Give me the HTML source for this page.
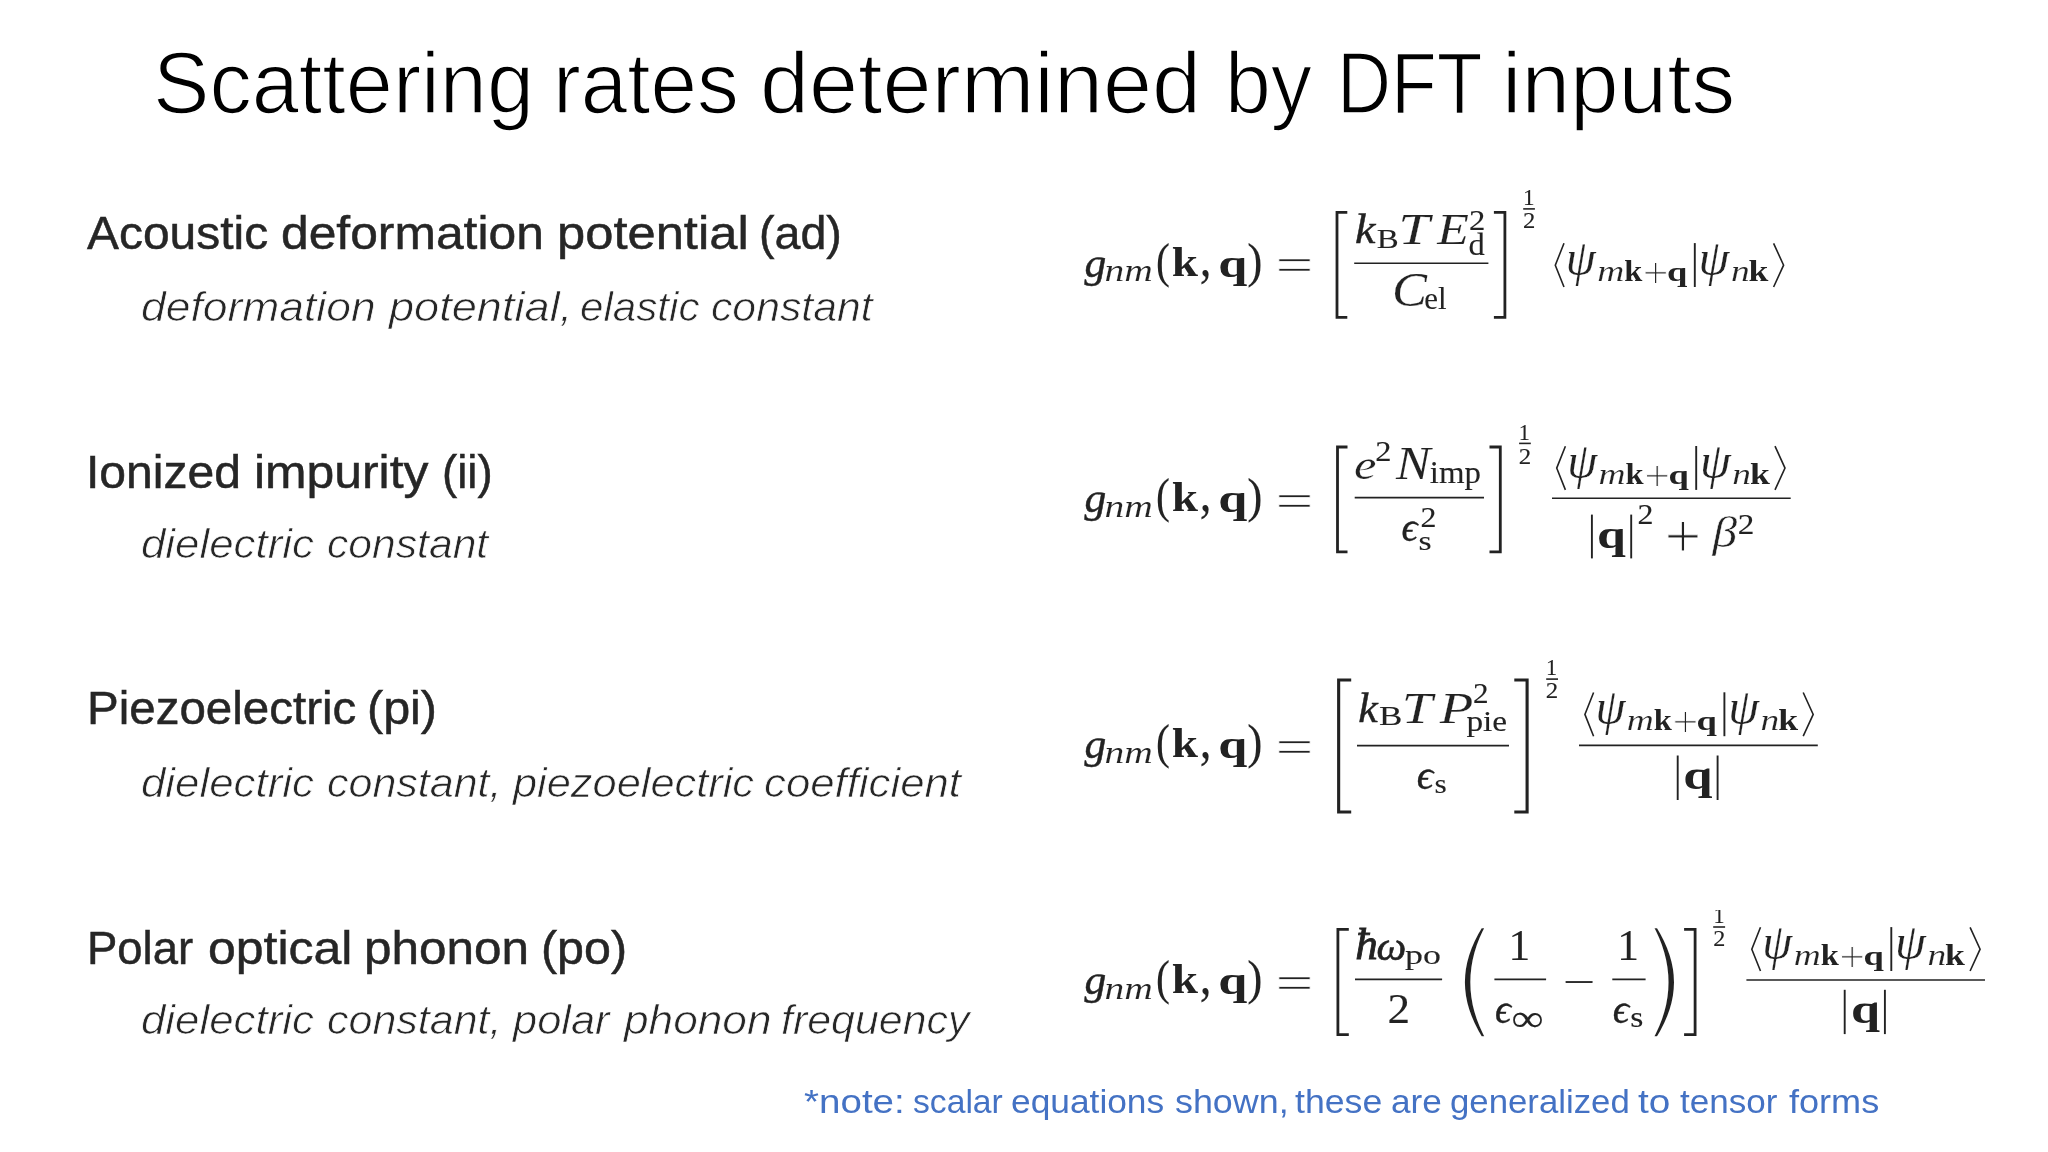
<!DOCTYPE html>
<html lang="en"><head><meta charset="utf-8"><title>Scattering rates determined by DFT inputs</title>
<style>
html,body{margin:0;padding:0;background:#fff}
body{width:2048px;height:1152px;position:relative;overflow:hidden}
.ln{will-change:transform;position:absolute;left:0;width:2048px;height:0;line-height:1;white-space:nowrap;font-kerning:none;font-variant-ligatures:none;font-family:"Liberation Sans",sans-serif}
.ln span{position:absolute;top:0;transform-origin:0 0;white-space:nowrap}
.ti{color:#000;-webkit-text-stroke:1.6px #fff}
.hd{color:#262626;-webkit-text-stroke:0.5px #262626}
.it{color:#262626;font-style:italic;-webkit-text-stroke:0.7px #fff}
.nt{color:#4472c4}
svg{position:absolute;left:0;top:0;will-change:transform}
svg text{fill:#222;font-kerning:none;font-variant-ligatures:none}
svg line,svg polyline{stroke:#222}
.r{font-family:"Liberation Serif",serif;stroke:#222;stroke-width:0.12px}
.i{font-family:"Liberation Serif",serif;font-style:italic;stroke:#222;stroke-width:0.2px}
.b{font-family:"Liberation Serif",serif;font-weight:bold}
.d{font-family:"DejaVu Serif",serif}
.ds{font-family:"DejaVu Sans",sans-serif}
</style></head><body>
<div class="ln ti" style="top:39.30px;font-size:87px"><span style="left:152.96px;transform:scaleX(0.9726)">Scattering</span> <span style="left:552.95px;transform:scaleX(0.9605)">rates</span> <span style="left:760.40px;transform:scaleX(1.0132)">determined</span> <span style="left:1225.19px;transform:scaleX(0.9476)">by</span> <span style="left:1336.66px;transform:scaleX(0.8601)">DFT</span> <span style="left:1502.35px;transform:scaleX(1.0045)">inputs</span></div>
<div class="ln hd" style="top:208.65px;font-size:47px"><span style="left:86.61px;transform:scaleX(1.0199)">Acoustic</span> <span style="left:281.41px;transform:scaleX(1.0589)">deformation</span> <span style="left:556.73px;transform:scaleX(1.0786)">potential</span> <span style="left:758.61px;transform:scaleX(0.9903)">(ad)</span></div>
<div class="ln it" style="top:287.10px;font-size:40px"><span style="left:141.40px;transform:scaleX(1.1107)">deformation</span> <span style="left:388.52px;transform:scaleX(1.1286)">potential,</span> <span style="left:579.98px;transform:scaleX(1.0539)">elastic</span> <span style="left:711.00px;transform:scaleX(1.0682)">constant</span></div>
<div class="ln hd" style="top:448.00px;font-size:47px"><span style="left:85.67px;transform:scaleX(1.0223)">Ionized</span> <span style="left:254.17px;transform:scaleX(1.0602)">impurity</span> <span style="left:442.17px;transform:scaleX(0.9707)">(ii)</span></div>
<div class="ln it" style="top:523.80px;font-size:40px"><span style="left:141.42px;transform:scaleX(1.0953)">dielectric</span> <span style="left:327.00px;transform:scaleX(1.0662)">constant</span></div>
<div class="ln hd" style="top:684.20px;font-size:47px"><span style="left:86.95px;transform:scaleX(1.0107)">Piezoelectric</span> <span style="left:366.99px;transform:scaleX(1.0313)">(pi)</span></div>
<div class="ln it" style="top:762.70px;font-size:40px"><span style="left:141.42px;transform:scaleX(1.0953)">dielectric</span> <span style="left:326.99px;transform:scaleX(1.0750)">constant,</span> <span style="left:513.48px;transform:scaleX(1.0840)">piezoelectric</span> <span style="left:764.47px;transform:scaleX(1.0939)">coefficient</span></div>
<div class="ln hd" style="top:923.65px;font-size:47px"><span style="left:87.22px;transform:scaleX(0.9664)">Polar</span> <span style="left:207.90px;transform:scaleX(1.0632)">optical</span> <span style="left:364.32px;transform:scaleX(1.0514)">phonon</span> <span style="left:540.50px;transform:scaleX(1.0289)">(po)</span></div>
<div class="ln it" style="top:999.60px;font-size:40px"><span style="left:141.42px;transform:scaleX(1.0953)">dielectric</span> <span style="left:326.99px;transform:scaleX(1.0750)">constant,</span> <span style="left:513.48px;transform:scaleX(1.0856)">polar</span> <span style="left:623.50px;transform:scaleX(1.1051)">phonon</span> <span style="left:780.95px;transform:scaleX(1.0724)">frequency</span></div>
<div class="ln nt" style="top:1083.80px;font-size:34px"><span style="left:804.38px;transform:scaleX(1.1338)">*note:</span> <span style="left:912.66px;transform:scaleX(0.9901)">scalar</span> <span style="left:1011.40px;transform:scaleX(1.0388)">equations</span> <span style="left:1174.60px;transform:scaleX(1.0547)">shown,</span> <span style="left:1295.36px;transform:scaleX(1.0487)">these</span> <span style="left:1391.31px;transform:scaleX(1.0350)">are</span> <span style="left:1450.14px;transform:scaleX(1.0228)">generalized</span> <span style="left:1638.31px;transform:scaleX(1.1396)">to</span> <span style="left:1679.87px;transform:scaleX(1.0309)">tensor</span> <span style="left:1789.29px;transform:scaleX(1.0614)">forms</span></div>
<svg width="2048" height="1152" viewBox="0 0 2048 1152">
<defs><clipPath id="c4"><rect x="1700" y="910" width="40" height="30"/></clipPath></defs>
<text class="i" font-size="42.50" transform="translate(1084.40 276.63) scale(1.0234 1)" style="stroke:#222;stroke-width:0.45px">g</text>
<text class="i" font-size="30.82" transform="translate(1104.44 281.36) scale(1.2815 1)" style="stroke:#fff;stroke-width:0.12px">nm</text>
<text class="r" font-size="48.64" transform="translate(1156.07 276.65) scale(0.8566 1)">(</text>
<text class="b" font-size="42.23" transform="translate(1171.82 275.70) scale(1.1175 1)">k</text>
<text class="r" font-size="54.51" transform="translate(1199.71 276.12) scale(0.8623 1)">,</text>
<text class="b" font-size="41.08" transform="translate(1218.26 276.76) scale(1.2706 1)">q</text>
<text class="r" font-size="48.64" transform="translate(1247.23 276.65) scale(0.9366 1)">)</text>
<text class="r" font-size="48.80" transform="translate(1275.41 281.30) scale(1.3775 1)" style="stroke:#fff;stroke-width:0.6px">=</text>
<polyline points="1347.30,212.40 1337.00,212.40 1337.00,317.30 1347.30,317.30" stroke-width="2.8" fill="none" stroke-linejoin="miter"/>
<line x1="1354.20" y1="263.20" x2="1488.40" y2="263.20" stroke-width="1.65"/>
<text class="i" font-size="43.17" transform="translate(1354.90 243.38) scale(1.0648 1)" style="stroke:#222;stroke-width:0.45px">k</text>
<text class="r" font-size="28.28" transform="translate(1376.65 248.32) scale(1.1640 1)">B</text>
<text class="i" font-size="45.21" transform="translate(1398.21 243.70) scale(1.2537 1)" style="stroke:#fff;stroke-width:0.2px">T</text>
<text class="i" font-size="45.21" transform="translate(1437.13 243.70) scale(1.1476 1)" style="stroke:#fff;stroke-width:0.2px">E</text>
<text class="r" font-size="29.45" transform="translate(1468.96 229.80) scale(1.1096 1)">2</text>
<text class="r" font-size="31.98" transform="translate(1468.62 254.89) scale(1.0178 1)">d</text>
<text class="i" font-size="49.45" transform="translate(1392.00 306.34) scale(1.0610 1)" style="stroke:#fff;stroke-width:0.2px">C</text>
<text class="r" font-size="30.98" transform="translate(1424.29 308.90) scale(0.9986 1)">el</text>
<polyline points="1493.90,212.40 1504.90,212.40 1504.90,317.30 1493.90,317.30" stroke-width="2.8" fill="none" stroke-linejoin="miter"/>
<text class="r" font-size="23.02" transform="translate(1522.88 205.40) scale(0.9993 1)">1</text>
<line x1="1523.20" y1="208.90" x2="1534.90" y2="208.90" stroke-width="1.6"/>
<text class="r" font-size="22.88" transform="translate(1523.01 227.75) scale(1.0793 1)">2</text>
<polyline points="1564.00,243.30 1555.30,265.20 1564.00,287.00" stroke-width="1.6" fill="none" stroke-linejoin="miter"/>
<text class="i" font-size="49.73" transform="translate(1565.85 275.11) scale(0.9697 1)" style="stroke:#fff;stroke-width:0.2px">ψ</text>
<text class="i" font-size="28.54" transform="translate(1597.19 280.88) scale(1.3120 1)" style="stroke:#fff;stroke-width:0.15px">m</text>
<text class="b" font-size="30.27" transform="translate(1624.19 280.70) scale(1.0727 1)">k</text>
<text class="r" font-size="45.08" transform="translate(1642.82 288.07) scale(1.0154 1)" style="stroke:#fff;stroke-width:1.0px">+</text>
<text class="b" font-size="27.53" transform="translate(1667.00 280.74) scale(1.3285 1)">q</text>
<line x1="1694.80" y1="243.10" x2="1694.80" y2="287.00" stroke-width="1.9"/>
<text class="i" font-size="49.73" transform="translate(1698.56 275.11) scale(0.9977 1)" style="stroke:#fff;stroke-width:0.2px">ψ</text>
<text class="i" font-size="28.54" transform="translate(1730.91 280.88) scale(1.3107 1)" style="stroke:#fff;stroke-width:0.15px">n</text>
<text class="b" font-size="30.27" transform="translate(1748.61 280.70) scale(1.1787 1)">k</text>
<polyline points="1773.60,243.30 1783.60,265.20 1773.60,287.00" stroke-width="1.6" fill="none" stroke-linejoin="miter"/>
<text class="i" font-size="42.50" transform="translate(1084.40 511.93) scale(1.0234 1)" style="stroke:#222;stroke-width:0.45px">g</text>
<text class="i" font-size="30.82" transform="translate(1104.44 516.66) scale(1.2815 1)" style="stroke:#fff;stroke-width:0.12px">nm</text>
<text class="r" font-size="48.64" transform="translate(1156.07 511.95) scale(0.8566 1)">(</text>
<text class="b" font-size="42.23" transform="translate(1171.82 511.00) scale(1.1175 1)">k</text>
<text class="r" font-size="54.51" transform="translate(1199.71 511.42) scale(0.8623 1)">,</text>
<text class="b" font-size="41.08" transform="translate(1218.26 512.06) scale(1.2706 1)">q</text>
<text class="r" font-size="48.64" transform="translate(1247.23 511.95) scale(0.9366 1)">)</text>
<text class="r" font-size="48.80" transform="translate(1275.41 516.60) scale(1.3775 1)" style="stroke:#fff;stroke-width:0.6px">=</text>
<polyline points="1347.50,447.00 1337.50,447.00 1337.50,551.90 1347.50,551.90" stroke-width="2.8" fill="none" stroke-linejoin="miter"/>
<line x1="1354.70" y1="497.60" x2="1484.00" y2="497.60" stroke-width="1.65"/>
<text class="i" font-size="42.10" transform="translate(1354.05 478.71) scale(1.1978 1)" style="stroke:#fff;stroke-width:0.25px">e</text>
<text class="r" font-size="30.51" transform="translate(1375.37 461.00) scale(1.0629 1)">2</text>
<text class="i" font-size="46.58" transform="translate(1396.04 478.65) scale(1.1075 1)" style="stroke:#fff;stroke-width:0.1px">N</text>
<text class="r" font-size="32.34" transform="translate(1429.81 483.31) scale(1.0171 1)">imp</text>
<text class="i" font-size="42.10" transform="translate(1401.49 541.41) scale(0.9465 1)" style="stroke:#222;stroke-width:0.35px">ϵ</text>
<text class="r" font-size="29.75" transform="translate(1420.60 526.90) scale(1.0731 1)">2</text>
<text class="r" font-size="27.86" transform="translate(1418.62 550.13) scale(1.2079 1)">s</text>
<polyline points="1489.50,447.00 1500.30,447.00 1500.30,551.90 1489.50,551.90" stroke-width="2.8" fill="none" stroke-linejoin="miter"/>
<text class="r" font-size="23.33" transform="translate(1518.85 440.20) scale(0.9498 1)">1</text>
<line x1="1519.10" y1="443.40" x2="1530.80" y2="443.40" stroke-width="1.6"/>
<text class="r" font-size="23.26" transform="translate(1518.80 463.60) scale(1.0725 1)">2</text>
<polyline points="1565.40,446.20 1556.70,468.10 1565.40,489.90" stroke-width="1.6" fill="none" stroke-linejoin="miter"/>
<text class="i" font-size="49.73" transform="translate(1567.25 478.01) scale(0.9697 1)" style="stroke:#fff;stroke-width:0.2px">ψ</text>
<text class="i" font-size="28.54" transform="translate(1598.59 483.77) scale(1.3120 1)" style="stroke:#fff;stroke-width:0.15px">m</text>
<text class="b" font-size="30.27" transform="translate(1625.59 483.60) scale(1.0727 1)">k</text>
<text class="r" font-size="45.08" transform="translate(1644.22 490.97) scale(1.0154 1)" style="stroke:#fff;stroke-width:1.0px">+</text>
<text class="b" font-size="27.53" transform="translate(1668.40 483.64) scale(1.3285 1)">q</text>
<line x1="1696.20" y1="446.00" x2="1696.20" y2="489.90" stroke-width="1.9"/>
<text class="i" font-size="49.73" transform="translate(1699.96 478.01) scale(0.9977 1)" style="stroke:#fff;stroke-width:0.2px">ψ</text>
<text class="i" font-size="28.54" transform="translate(1732.31 483.77) scale(1.3107 1)" style="stroke:#fff;stroke-width:0.15px">n</text>
<text class="b" font-size="30.27" transform="translate(1750.01 483.60) scale(1.1787 1)">k</text>
<polyline points="1775.00,446.20 1785.00,468.10 1775.00,489.90" stroke-width="1.6" fill="none" stroke-linejoin="miter"/>
<line x1="1552.00" y1="498.20" x2="1790.70" y2="498.20" stroke-width="1.65"/>
<line x1="1591.90" y1="514.60" x2="1591.90" y2="558.40" stroke-width="1.9"/>
<text class="b" font-size="41.08" transform="translate(1596.88 547.56) scale(1.2609 1)">q</text>
<line x1="1631.20" y1="514.60" x2="1631.20" y2="558.40" stroke-width="1.9"/>
<text class="r" font-size="29.75" transform="translate(1637.50 523.60) scale(1.0731 1)">2</text>
<text class="r" font-size="63.11" transform="translate(1664.63 557.91) scale(1.0222 1)" style="stroke:#fff;stroke-width:0.9px">+</text>
<text class="i" font-size="44.49" transform="translate(1712.50 547.08) scale(1.1091 1)" style="stroke:#fff;stroke-width:0.5px">β</text>
<text class="r" font-size="29.15" transform="translate(1737.84 534.20) scale(1.1382 1)">2</text>
<text class="i" font-size="42.50" transform="translate(1084.40 758.03) scale(1.0234 1)" style="stroke:#222;stroke-width:0.45px">g</text>
<text class="i" font-size="30.82" transform="translate(1104.44 762.76) scale(1.2815 1)" style="stroke:#fff;stroke-width:0.12px">nm</text>
<text class="r" font-size="48.64" transform="translate(1156.07 758.05) scale(0.8566 1)">(</text>
<text class="b" font-size="42.23" transform="translate(1171.82 757.10) scale(1.1175 1)">k</text>
<text class="r" font-size="54.51" transform="translate(1199.71 757.52) scale(0.8623 1)">,</text>
<text class="b" font-size="41.08" transform="translate(1218.26 758.16) scale(1.2706 1)">q</text>
<text class="r" font-size="48.64" transform="translate(1247.23 758.05) scale(0.9366 1)">)</text>
<text class="r" font-size="48.80" transform="translate(1275.41 762.70) scale(1.3775 1)" style="stroke:#fff;stroke-width:0.6px">=</text>
<polyline points="1351.20,679.95 1338.65,679.95 1338.65,812.05 1351.20,812.05" stroke-width="3.1" fill="none" stroke-linejoin="miter"/>
<line x1="1357.00" y1="745.60" x2="1509.00" y2="745.60" stroke-width="1.65"/>
<text class="i" font-size="43.17" transform="translate(1358.16 722.17) scale(1.0163 1)" style="stroke:#222;stroke-width:0.45px">k</text>
<text class="r" font-size="28.28" transform="translate(1378.99 725.12) scale(1.2360 1)">B</text>
<text class="i" font-size="44.90" transform="translate(1401.81 722.50) scale(1.2298 1)" style="stroke:#fff;stroke-width:0.2px">T</text>
<text class="i" font-size="44.90" transform="translate(1439.82 722.50) scale(1.2236 1)" style="stroke:#fff;stroke-width:0.2px">P</text>
<text class="r" font-size="29.45" transform="translate(1473.03 702.70) scale(1.0587 1)">2</text>
<text class="r" font-size="30.29" transform="translate(1466.46 731.05) scale(1.0998 1)">pie</text>
<text class="i" font-size="41.69" transform="translate(1416.75 789.42) scale(0.9855 1)" style="stroke:#222;stroke-width:0.35px">ϵ</text>
<text class="r" font-size="28.07" transform="translate(1434.41 792.53) scale(1.1190 1)">s</text>
<polyline points="1514.30,679.95 1527.10,679.95 1527.10,812.05 1514.30,812.05" stroke-width="3.1" fill="none" stroke-linejoin="miter"/>
<text class="r" font-size="23.63" transform="translate(1546.05 674.70) scale(0.9376 1)">1</text>
<line x1="1546.20" y1="679.10" x2="1558.00" y2="679.10" stroke-width="1.6"/>
<text class="r" font-size="22.96" transform="translate(1545.80 698.40) scale(1.0866 1)">2</text>
<polyline points="1593.60,692.50 1584.90,714.40 1593.60,736.20" stroke-width="1.6" fill="none" stroke-linejoin="miter"/>
<text class="i" font-size="49.73" transform="translate(1595.45 724.31) scale(0.9697 1)" style="stroke:#fff;stroke-width:0.2px">ψ</text>
<text class="i" font-size="28.54" transform="translate(1626.79 730.08) scale(1.3120 1)" style="stroke:#fff;stroke-width:0.15px">m</text>
<text class="b" font-size="30.27" transform="translate(1653.79 729.90) scale(1.0727 1)">k</text>
<text class="r" font-size="45.08" transform="translate(1672.42 737.27) scale(1.0154 1)" style="stroke:#fff;stroke-width:1.0px">+</text>
<text class="b" font-size="27.53" transform="translate(1696.60 729.94) scale(1.3285 1)">q</text>
<line x1="1724.40" y1="692.30" x2="1724.40" y2="736.20" stroke-width="1.9"/>
<text class="i" font-size="49.73" transform="translate(1728.16 724.31) scale(0.9977 1)" style="stroke:#fff;stroke-width:0.2px">ψ</text>
<text class="i" font-size="28.54" transform="translate(1760.51 730.08) scale(1.3107 1)" style="stroke:#fff;stroke-width:0.15px">n</text>
<text class="b" font-size="30.27" transform="translate(1778.21 729.90) scale(1.1787 1)">k</text>
<polyline points="1803.20,692.50 1813.20,714.40 1803.20,736.20" stroke-width="1.6" fill="none" stroke-linejoin="miter"/>
<line x1="1579.00" y1="745.40" x2="1817.80" y2="745.40" stroke-width="1.65"/>
<line x1="1677.70" y1="755.50" x2="1677.70" y2="800.00" stroke-width="1.9"/>
<text class="b" font-size="41.80" transform="translate(1683.14 788.80) scale(1.2581 1)">q</text>
<line x1="1717.60" y1="755.50" x2="1717.60" y2="800.00" stroke-width="1.9"/>
<text class="i" font-size="42.50" transform="translate(1084.40 994.13) scale(1.0234 1)" style="stroke:#222;stroke-width:0.45px">g</text>
<text class="i" font-size="30.82" transform="translate(1104.44 998.86) scale(1.2815 1)" style="stroke:#fff;stroke-width:0.12px">nm</text>
<text class="r" font-size="48.64" transform="translate(1156.07 994.15) scale(0.8566 1)">(</text>
<text class="b" font-size="42.23" transform="translate(1171.82 993.20) scale(1.1175 1)">k</text>
<text class="r" font-size="54.51" transform="translate(1199.71 993.62) scale(0.8623 1)">,</text>
<text class="b" font-size="41.08" transform="translate(1218.26 994.26) scale(1.2706 1)">q</text>
<text class="r" font-size="48.64" transform="translate(1247.23 994.15) scale(0.9366 1)">)</text>
<text class="r" font-size="48.80" transform="translate(1275.41 998.80) scale(1.3775 1)" style="stroke:#fff;stroke-width:0.6px">=</text>
<polyline points="1348.80,929.40 1337.90,929.40 1337.90,1034.60 1348.80,1034.60" stroke-width="2.8" fill="none" stroke-linejoin="miter"/>
<line x1="1355.00" y1="979.40" x2="1442.10" y2="979.40" stroke-width="1.65"/>
<text class="i" font-size="43.81" transform="translate(1355.17 959.40) scale(1.0321 1)" style="stroke:#222;stroke-width:0.8px">ħ</text>
<text class="i" font-size="39.08" transform="translate(1376.40 959.52) scale(1.0782 1)" style="stroke:#222;stroke-width:0.6px">ω</text>
<text class="r" font-size="28.21" transform="translate(1405.02 964.39) scale(1.2704 1)">po</text>
<text class="r" font-size="42.74" transform="translate(1387.62 1022.90) scale(1.0564 1)">2</text>
<text class="ds" font-size="128.67" transform="translate(1451.07 1022.54) scale(0.9668 1)" style="stroke:#fff;stroke-width:6.6px">(</text>
<line x1="1494.40" y1="979.40" x2="1546.10" y2="979.40" stroke-width="1.65"/>
<text class="r" font-size="43.47" transform="translate(1508.48 959.70) scale(0.9997 1)">1</text>
<text class="i" font-size="41.48" transform="translate(1494.90 1022.72) scale(0.9548 1)" style="stroke:#222;stroke-width:0.35px">ϵ</text>
<text class="r" font-size="37.81" transform="translate(1511.61 1030.75) scale(1.1913 1)">∞</text>
<text class="r" font-size="36.14" transform="translate(1562.75 994.30) scale(1.5817 1)">−</text>
<line x1="1612.30" y1="979.40" x2="1645.60" y2="979.40" stroke-width="1.65"/>
<text class="r" font-size="43.47" transform="translate(1617.18 959.70) scale(0.9997 1)">1</text>
<text class="i" font-size="41.48" transform="translate(1612.77 1022.72) scale(0.9785 1)" style="stroke:#222;stroke-width:0.35px">ϵ</text>
<text class="r" font-size="29.52" transform="translate(1630.22 1026.71) scale(1.1398 1)">s</text>
<text class="ds" font-size="128.67" transform="translate(1638.89 1022.54) scale(0.9772 1)" style="stroke:#fff;stroke-width:6.6px">)</text>
<polyline points="1684.10,929.40 1695.10,929.40 1695.10,1034.60 1684.10,1034.60" stroke-width="2.8" fill="none" stroke-linejoin="miter"/>
<g clip-path="url(#c4)">
<text class="r" font-size="23.33" transform="translate(1713.45 922.60) scale(0.9498 1)">1</text>
</g>
<line x1="1713.20" y1="927.00" x2="1725.10" y2="927.00" stroke-width="1.6"/>
<text class="r" font-size="23.56" transform="translate(1713.24 946.00) scale(1.0270 1)">2</text>
<polyline points="1760.50,927.30 1751.80,949.20 1760.50,971.00" stroke-width="1.6" fill="none" stroke-linejoin="miter"/>
<text class="i" font-size="49.73" transform="translate(1762.35 959.11) scale(0.9697 1)" style="stroke:#fff;stroke-width:0.2px">ψ</text>
<text class="i" font-size="28.54" transform="translate(1793.69 964.88) scale(1.3120 1)" style="stroke:#fff;stroke-width:0.15px">m</text>
<text class="b" font-size="30.27" transform="translate(1820.69 964.70) scale(1.0727 1)">k</text>
<text class="r" font-size="45.08" transform="translate(1839.32 972.07) scale(1.0154 1)" style="stroke:#fff;stroke-width:1.0px">+</text>
<text class="b" font-size="27.53" transform="translate(1863.50 964.74) scale(1.3285 1)">q</text>
<line x1="1891.30" y1="927.10" x2="1891.30" y2="971.00" stroke-width="1.9"/>
<text class="i" font-size="49.73" transform="translate(1895.06 959.11) scale(0.9977 1)" style="stroke:#fff;stroke-width:0.2px">ψ</text>
<text class="i" font-size="28.54" transform="translate(1927.41 964.88) scale(1.3107 1)" style="stroke:#fff;stroke-width:0.15px">n</text>
<text class="b" font-size="30.27" transform="translate(1945.11 964.70) scale(1.1787 1)">k</text>
<polyline points="1970.10,927.30 1980.10,949.20 1970.10,971.00" stroke-width="1.6" fill="none" stroke-linejoin="miter"/>
<line x1="1746.40" y1="980.00" x2="1985.00" y2="980.00" stroke-width="1.65"/>
<line x1="1844.70" y1="989.80" x2="1844.70" y2="1034.10" stroke-width="1.9"/>
<text class="b" font-size="41.80" transform="translate(1850.96 1022.60) scale(1.2486 1)">q</text>
<line x1="1884.90" y1="989.80" x2="1884.90" y2="1034.10" stroke-width="1.9"/>
</svg>
</body></html>
